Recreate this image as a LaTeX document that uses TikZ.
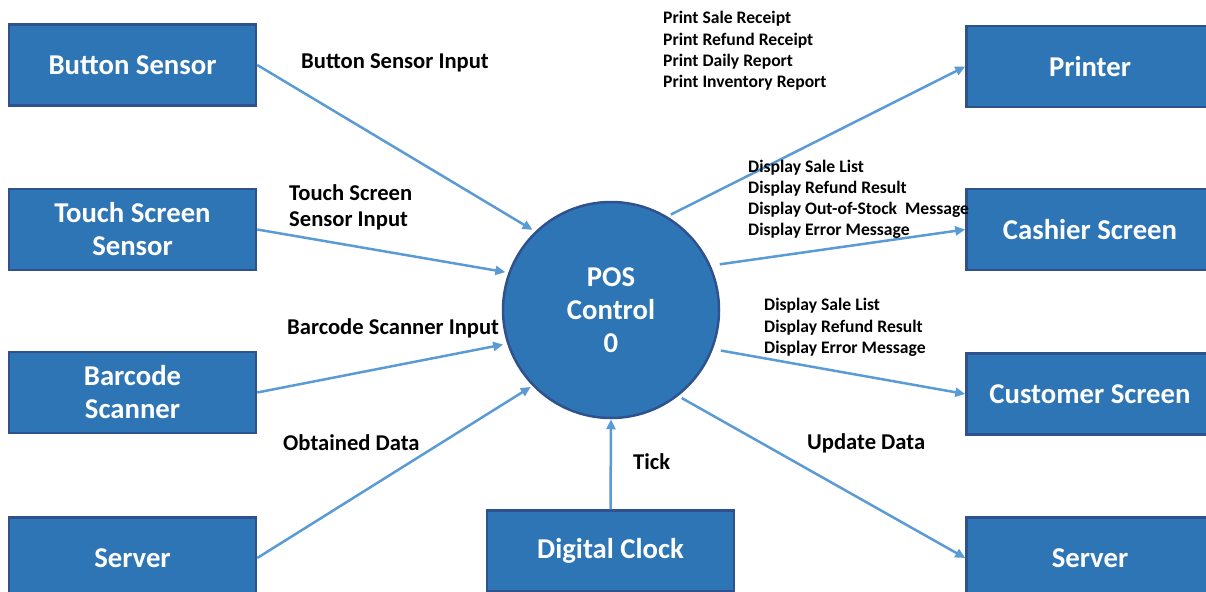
\documentclass[tikz,border=0pt]{standalone}
\usepackage{fontspec}
\setmainfont{Carlito}
\usetikzlibrary{arrows.meta}
\definecolor{boxfill}{HTML}{2E75B6}
\definecolor{boxline}{HTML}{2F528F}
\definecolor{arrline}{HTML}{5B9BD5}
\begin{document}
\begin{tikzpicture}[x=1pt,y=-1pt,
  ent/.style={rectangle, draw=boxline, line width=2.5pt, fill=boxfill, text=white,
    minimum width=247pt, minimum height=81pt, align=center,
    font=\fontsize{28.7}{33}\selectfont\bfseries},
  proc/.style={circle, draw=boxline, line width=2.5pt, fill=boxfill, text=white,
    minimum size=216pt, align=center, inner sep=0pt,
    font=\fontsize{28.7}{33}\selectfont\bfseries},
  arr/.style={draw=arrline, line width=2.5pt, -{Triangle[length=10pt,width=9pt]}},
  lbl/.style={anchor=west, inner sep=0pt, align=left,
    font=\fontsize{22.6}{26}\selectfont\bfseries},
  small/.style={anchor=west, inner sep=0pt, align=left,
    font=\fontsize{17.6}{21.2}\selectfont\bfseries}]
\useasboundingbox (0,0) rectangle (1206,591);

\node[ent] (button) at (132.5,65) {Button Sensor};
\node[ent] (touch) at (132.5,229.5) {Touch Screen\\Sensor};
\node[ent] (barcode) at (132.5,392.5) {Barcode\\Scanner};
\node[ent] (serverL) at (132.5,558) {Server};
\node[ent] (clock) at (610.5,551) {Digital Clock};
\node[ent] (printer) at (1090,66.5) {Printer};
\node[ent] (cashier) at (1090,229.5) {Cashier Screen};
\node[ent] (customer) at (1090,394) {Customer Screen};
\node[ent] (serverR) at (1090,558) {Server};

\node[proc] (pos) at (611,310) {POS\\Control\\0};

\draw[arr, shorten >=3pt] (button.east) -- (pos.134);
\draw[arr, shorten >=3pt] (touch.east) -- (pos.160);
\draw[arr, shorten >=4pt] (barcode.east) -- (pos.198);
\draw[arr, shorten >=2pt] (serverL.east) -- (pos.224);
\draw[arr] (clock.north) -- (pos.south);
\draw[arr, shorten <=4pt] (pos.59) -- (printer.west);
\draw[arr, shorten <=9pt] (pos.24) -- (cashier.west);
\draw[arr, shorten <=8pt] (pos.-21) -- (customer.west);
\draw[arr, shorten <=4pt] (pos.-52) -- (serverR.west);

\node[lbl] (l1) at (301,63) {Button Sensor Input};
\node[lbl] (l2) at (289,207) {Touch Screen\\Sensor Input};
\node[lbl] (l3) at (287,328) {Barcode Scanner Input};
\node[lbl] (l4) at (283,443) {Obtained Data};
\node[lbl] (l5) at (633,462) {Tick};
\node[lbl] (l6) at (807,443) {Update Data};
\node[small] (l7) at (663,51) {Print Sale Receipt\\Print Refund Receipt\\Print Daily Report\\Print Inventory Report};
\node[small] (l8) at (748,199.5) {Display Sale List\\Display Refund Result\\Display Out-of-Stock\ \ Message\\Display Error Message};
\node[small] (l9) at (764,327.5) {Display Sale List\\Display Refund Result\\Display Error Message};
\end{tikzpicture}
\end{document}
